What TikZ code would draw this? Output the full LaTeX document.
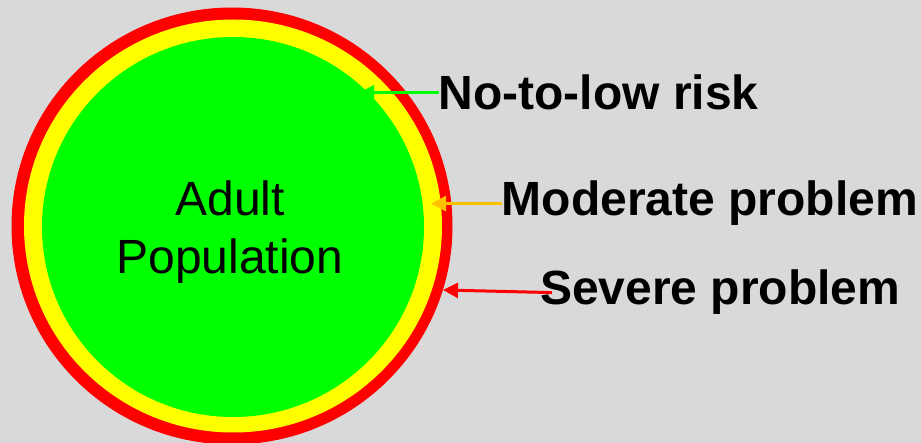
\documentclass[tikz,border=0pt]{standalone}
\usepackage{fontspec}
\setmainfont{Liberation Sans}
\usetikzlibrary{arrows.meta}
\definecolor{bg}{RGB}{217,217,217}
\definecolor{ringred}{RGB}{255,0,0}
\definecolor{ringyellow}{RGB}{255,255,0}
\definecolor{core}{RGB}{0,255,0}
\definecolor{amber}{RGB}{255,192,0}
\begin{document}
\begin{tikzpicture}[x=1pt,y=-1pt,
  riskname/.style={font=\fontsize{48}{58}\selectfont\bfseries, inner sep=0pt, anchor=base west},
  pointer/.style={line width=3pt, -{Triangle[length=15pt,width=15pt]}}]
\fill[bg] (0,0) rectangle (921,443);
\useasboundingbox (0,0) rectangle (921,443);
% rings
\fill[ringred] (232,226) ellipse [x radius=220.5, y radius=218.5];
\fill[ringyellow] (233,226) ellipse [x radius=209, y radius=206.5];
\fill[core] (233,227) ellipse [x radius=191, y radius=190];
% centre text
\node[font=\fontsize{48}{58}\selectfont, align=center, anchor=base, inner sep=0pt] (pop) at (230,274) {Adult\\Population};
% labels
\node[riskname] (low) at (438.5,110) {No-to-low risk};
\node[riskname] (mod) at (501.5,216) {Moderate problem};
\node[riskname] (sev) at (540,305) {Severe problem};
% arrow tips
\coordinate (tipG) at (359,91);
\coordinate (tipO) at (431,202);
\coordinate (tipR) at (443,290);
% connectors
\draw[pointer, core] (low.west) -- (low.west -| tipG);
\draw[pointer, amber] (mod.west) -- (mod.west -| tipO);
\draw[pointer, ringred] ([xshift=12pt]sev.west) -- (tipR);
\end{tikzpicture}
\end{document}
